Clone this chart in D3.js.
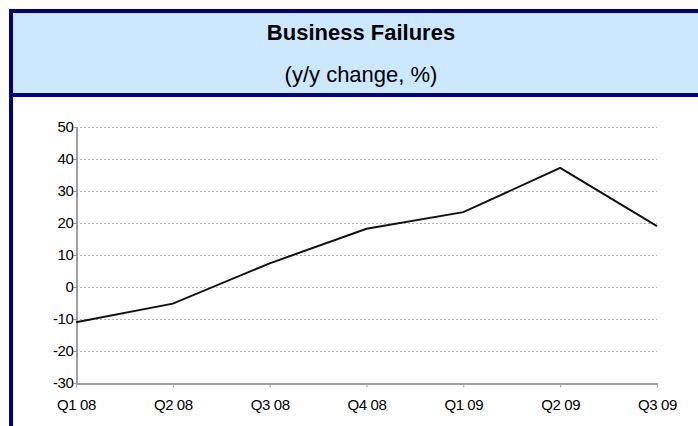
<!DOCTYPE html>
<html>
<head>
<meta charset="utf-8">
<script src="https://cdn.jsdelivr.net/npm/d3@7"></script>
<style>
  body { margin: 0; background: #fff; }
  svg { display: block; font-family: "Liberation Sans", Arial, sans-serif; }
</style>
</head>
<body>
<svg id="chart"></svg>
<script>
// Chart data
const quarters = ["Q1 08", "Q2 08", "Q3 08", "Q4 08", "Q1 09", "Q2 09", "Q3 09"];
const failures = [-11, -5.2, 7.4, 18.2, 23.4, 37.2, 19];
const yTicks = [-30, -20, -10, 0, 10, 20, 30, 40, 50];

const width = 698;
const height = 426;
const margin = { top: 127, right: 41, bottom: 43, left: 76 };

const svg = d3.select("#chart")
    .attr("width", width)
    .attr("height", height);

// Header box with navy frame
svg.append("rect")
    .attr("x", 13).attr("y", 13)
    .attr("width", width - 13).attr("height", 80)
    .attr("fill", "#cce8ff");
svg.append("rect")
    .attr("x", 9).attr("y", 9)
    .attr("width", width - 9).attr("height", 4)
    .attr("fill", "#000080");
svg.append("rect")
    .attr("x", 9).attr("y", 93)
    .attr("width", width - 9).attr("height", 4)
    .attr("fill", "#000080");
svg.append("rect")
    .attr("x", 9).attr("y", 9)
    .attr("width", 4).attr("height", height - 9)
    .attr("fill", "#000080");

svg.append("text")
    .attr("x", 361).attr("y", 40)
    .attr("text-anchor", "middle")
    .attr("font-size", 22)
    .attr("font-weight", "bold")
    .text("Business Failures");

svg.append("text")
    .attr("x", 361).attr("y", 82)
    .attr("text-anchor", "middle")
    .attr("font-size", 22)
    .text("(y/y change, %)");

// Scales
const x = d3.scalePoint()
    .domain(quarters)
    .range([margin.left, width - margin.right]);

const y = d3.scaleLinear()
    .domain([-30, 50])
    .range([height - margin.bottom, margin.top]);

// Gridlines
svg.append("g")
    .selectAll("line")
    .data(yTicks.filter(d => d > -30))
    .join("line")
    .attr("x1", margin.left)
    .attr("x2", width - margin.right)
    .attr("y1", d => Math.round(y(d)) + 0.5)
    .attr("y2", d => Math.round(y(d)) + 0.5)
    .attr("stroke", "#b4b4b4")
    .attr("stroke-dasharray", "2,2");

// Axes
const xAxis = d3.axisBottom(x).tickSize(4).tickSizeOuter(0);
const yAxis = d3.axisLeft(y)
    .tickValues(yTicks)
    .tickFormat(d => String(d))   // plain hyphen, not the unicode minus
    .tickSize(3)
    .tickSizeOuter(0);

const gx = svg.append("g")
    .attr("transform", `translate(0,${height - margin.bottom + 0.5})`)
    .call(xAxis);
gx.select(".domain").attr("stroke", "#808080").attr("stroke-width", 1.5);
gx.selectAll(".tick line").attr("stroke", "#a0a0a0");
gx.selectAll(".tick text")
    .attr("font-size", 15)
    .attr("letter-spacing", -0.4)
    .attr("fill", "#000")
    .attr("dy", "1.3em");

const gy = svg.append("g")
    .attr("transform", `translate(${margin.left + 0.5},0)`)
    .call(yAxis);
gy.select(".domain").attr("stroke", "#808080").attr("stroke-width", 1.5);
gy.selectAll(".tick line").attr("stroke", "#a0a0a0");
gy.selectAll(".tick text")
    .attr("font-size", 15)
    .attr("letter-spacing", -0.4)
    .attr("fill", "#000")
    .attr("x", -3);

// Line
const line = d3.line()
    .x((d, i) => x(quarters[i]))
    .y(d => y(d));

svg.append("path")
    .datum(failures)
    .attr("fill", "none")
    .attr("stroke", "#111")
    .attr("stroke-width", 2)
    .attr("d", line);
</script>
</body>
</html>
